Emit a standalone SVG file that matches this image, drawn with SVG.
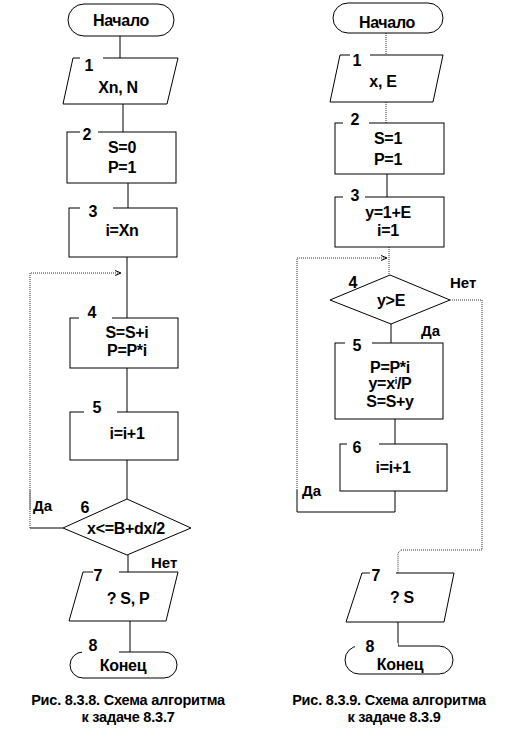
<svg xmlns="http://www.w3.org/2000/svg" width="511" height="742" viewBox="0 0 511 742">
<defs>
<style>
.shape{fill:#fff;stroke:#000;stroke-width:1}
.dash{fill:none;stroke:#333;stroke-width:1;stroke-dasharray:1 1}
.ln{fill:none;stroke:#000;stroke-width:1}
text{font-family:"Liberation Sans",Arial,sans-serif;font-weight:bold;fill:#000}
.t{font-size:16px;text-anchor:middle;letter-spacing:-0.3px}
.n{font-size:16px;text-anchor:middle}
.l{font-size:15px}
.cap{font-size:14.5px;text-anchor:middle;letter-spacing:-0.2px}
.gap{fill:#fff;stroke:none}
</style>
<marker id="arr" markerWidth="8" markerHeight="8" refX="7" refY="4" orient="auto" markerUnits="userSpaceOnUse">
<path d="M1,1.5 L7,4 L1,6.5" fill="none" stroke="#000" stroke-width="1"/>
</marker>
</defs>
<rect width="511" height="742" fill="#fff"/>

<g id="connectors">
<line class="ln" x1="120" y1="36" x2="120" y2="58"/>
<line class="ln" x1="123" y1="104" x2="123" y2="132"/>
<line class="ln" x1="128" y1="183" x2="128" y2="208"/>
<line class="ln" x1="127" y1="257" x2="127" y2="318"/>
<line class="ln" x1="127" y1="368" x2="127" y2="412"/>
<line class="ln" x1="127" y1="460" x2="127" y2="499"/>
<line class="ln" x1="128" y1="555" x2="128" y2="572"/>
<line class="ln" x1="130" y1="621" x2="130" y2="652"/>
<polyline class="ln" points="63,528 30,528"/>
<polyline class="dash" points="30,528 30,273 121,273" marker-end="url(#arr)"/>
<line x1="30" y1="490" x2="30" y2="510" stroke="#888" stroke-width="1.5"/>
<line class="dash" x1="386" y1="33" x2="386" y2="55"/>
<line class="dash" x1="386" y1="102" x2="386" y2="123"/>
<line class="ln" x1="387" y1="174" x2="387" y2="197"/>
<line class="dash" x1="389" y1="247" x2="389" y2="275"/>
<line class="ln" x1="391" y1="324" x2="391" y2="343"/>
<line class="ln" x1="395" y1="419" x2="395" y2="444"/>
<polyline class="ln" points="395,491 395,512 297,512 297,490"/>
<polyline class="dash" points="297,490 297,258 387,258" marker-end="url(#arr)"/>
<polyline class="dash" points="450,300 482,300 482,550 401,550 398,553 398,573"/>
<line class="ln" x1="398" y1="622" x2="398" y2="646"/>
</g>

<g id="left-start">
<rect class="shape" x="68" y="4" width="106" height="32" rx="16"/>
<text class="t" x="121" y="26">Начало</text>
</g>
<g id="left-1">
<polygon class="shape" points="73,58 178,58 167,104 63,104"/>
<rect class="gap" x="80" y="55" width="23" height="6"/>
<text class="n" x="89" y="71">1</text>
<text class="t" x="118" y="93">Xn, N</text>
</g>
<g id="left-2">
<rect class="shape" x="67" y="132" width="109" height="51"/>
<rect class="gap" x="80" y="129" width="18" height="6"/>
<text class="n" x="87" y="140">2</text>
<text class="t" x="122" y="153">S=0</text>
<text class="t" x="122" y="173">P=1</text>
</g>
<g id="left-3">
<rect class="shape" x="69" y="208" width="108" height="49"/>
<rect class="gap" x="80" y="205" width="33" height="6"/>
<text class="n" x="93" y="217">3</text>
<text class="t" x="122" y="236">i=Xn</text>
</g>
<g id="left-4">
<rect class="shape" x="70" y="318" width="108" height="50"/>
<rect class="gap" x="79" y="315" width="33" height="6"/>
<text class="n" x="92" y="318">4</text>
<text class="t" x="127" y="338">S=S+i</text>
<text class="t" x="127" y="356">P=P*i</text>
</g>
<g id="left-5">
<rect class="shape" x="70" y="412" width="108" height="48"/>
<rect class="gap" x="84" y="409" width="33" height="6"/>
<text class="n" x="97" y="413">5</text>
<text class="t" x="127" y="439">i=i+1</text>
</g>
<g id="left-6">
<polygon class="shape" points="127,499 191,528 127,555 63,528"/>
<text class="n" x="85" y="513">6</text>
<text class="t" x="126" y="534">x&lt;=B+dx/2</text>
<text class="l" x="33" y="511">Да</text>
<text class="l" x="151" y="568">Нет</text>
</g>
<g id="left-7">
<polygon class="shape" points="83,572 178,572 166,621 69,621"/>
<rect class="gap" x="93" y="569" width="26" height="6"/>
<line x1="84" y1="572" x2="92" y2="572" stroke="#888" stroke-width="1.5"/>
<text class="n" x="98" y="581">7</text>
<text class="t" x="128" y="604">? S, P</text>
</g>
<g id="left-end">
<rect class="shape" x="70" y="652" width="107" height="26" rx="13"/>
<rect class="gap" x="82" y="649" width="37" height="6"/>
<text class="n" x="93" y="651">8</text>
<text class="t" x="123" y="671">Конец</text>
</g>
<g id="left-caption">
<text class="cap" x="128" y="705">Рис. 8.3.8. Схема алгоритма</text>
<text class="cap" x="128" y="722">к задаче 8.3.7</text>
</g>

<g id="right-start">
<rect class="shape" x="333" y="3" width="110" height="30" rx="15"/>
<text class="t" x="387" y="28">Начало</text>
</g>
<g id="right-1">
<polygon class="shape" points="340,55 443,55 433,102 330,102"/>
<rect class="gap" x="350" y="52" width="20" height="6"/>
<text class="n" x="357" y="66">1</text>
<text class="t" x="383" y="87">x, E</text>
</g>
<g id="right-2">
<rect class="shape" x="335" y="123" width="109" height="51"/>
<rect class="gap" x="343" y="120" width="26" height="6"/>
<text class="n" x="355" y="125">2</text>
<text class="t" x="388" y="144">S=1</text>
<text class="t" x="388" y="165">P=1</text>
</g>
<g id="right-3">
<rect class="shape" x="335" y="197" width="109" height="50"/>
<rect class="gap" x="343" y="194" width="22" height="6"/>
<text class="n" x="355" y="201">3</text>
<text class="t" x="388" y="218">y=1+E</text>
<text class="t" x="388" y="236">i=1</text>
</g>
<g id="right-4">
<polygon class="shape" points="390,275 450,300 391,324 330,300"/>
<text class="n" x="353" y="288">4</text>
<text class="t" x="391" y="306">y&gt;E</text>
<text class="l" x="450" y="288">Нет</text>
<text class="l" x="421" y="336">Да</text>
</g>
<g id="right-5">
<rect class="shape" x="335" y="343" width="108" height="76"/>
<rect class="gap" x="345" y="340" width="27" height="6"/>
<text class="n" x="357" y="351">5</text>
<text class="t" x="390" y="373">P=P*i</text>
<text class="t" x="390" y="389">y=x<tspan font-size="9" dy="-5">i</tspan><tspan dy="5">/P</tspan></text>
<text class="t" x="390" y="407">S=S+y</text>
</g>
<g id="right-6">
<rect class="shape" x="340" y="444" width="107" height="47"/>
<rect class="gap" x="347" y="441" width="32" height="6"/>
<text class="n" x="357" y="453">6</text>
<text class="t" x="393" y="473">i=i+1</text>
<text class="l" x="302" y="496">Да</text>
</g>
<g id="right-7">
<polygon class="shape" points="362,573 454,573 444,622 346,622"/>
<rect class="gap" x="370" y="570" width="26" height="6"/>
<line x1="363" y1="573" x2="370" y2="573" stroke="#888" stroke-width="1.5"/>
<text class="n" x="376" y="581">7</text>
<text class="t" x="402" y="603">? S</text>
</g>
<g id="right-end">
<rect class="shape" x="345" y="646" width="108" height="28" rx="14"/>
<rect class="gap" x="355" y="643" width="43" height="6"/>
<text class="n" x="370" y="652">8</text>
<text class="t" x="400" y="670">Конец</text>
</g>
<g id="right-caption">
<text class="cap" x="389" y="705">Рис. 8.3.9. Схема алгоритма</text>
<text class="cap" x="394" y="722">к задаче 8.3.9</text>
</g>
</svg>
